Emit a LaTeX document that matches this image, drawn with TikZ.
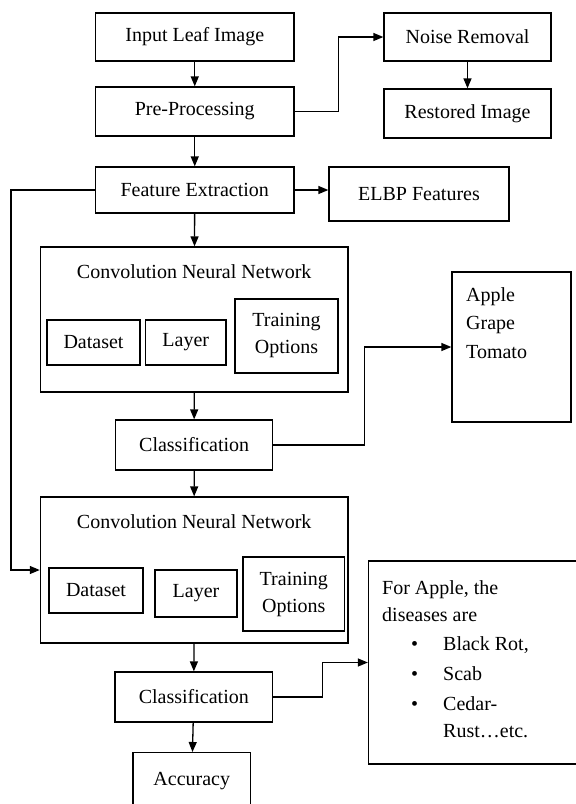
\documentclass[tikz,border=0pt]{standalone}
\usepackage{fontspec}
\setmainfont{Liberation Serif}
\usetikzlibrary{arrows.meta}
\begin{document}
\begin{tikzpicture}[x=1pt,y=-1pt,
  every node/.style={font=\fontsize{20}{27}\selectfont},
  box/.style={draw, line width=1.3pt, inner sep=0pt, align=center},
  txt/.style={inner sep=0pt, anchor=base west},
  conn/.style={line width=1.3pt, -{Triangle[length=10pt,width=8pt]}},
  plain/.style={line width=1.3pt}]
\useasboundingbox (0,0) rectangle (576,804);
\clip (0,0) rectangle (576,804);
\fill[white] (0,0) rectangle (576,804);

% top chain
\node[box, minimum width=198.5, minimum height=48] (in) at (194.75,37) {Input Leaf Image};
\node[box, minimum width=198.5, minimum height=49] (pre) at (194.75,111.5) {Pre-Processing};
\node[box, minimum width=167, minimum height=48] (noise) at (467.5,37) {Noise Removal};
\node[box, minimum width=167, minimum height=49] (rest) at (467.5,113.5) {Restored Image};
\node[box, minimum width=198.5, minimum height=46] (feat) at (194.75,190) {Feature Extraction};
\node[box, minimum width=180, minimum height=54] (elbp) at (419,194) {ELBP Features};

% first CNN block
\node[box, minimum width=307.6, minimum height=145] (cnn1) at (194.2,319.5) {};
\node[inner sep=0pt] (cnn1t) at (194.2,272) {Convolution Neural Network};
\node[box, minimum width=93, minimum height=45] (ds1) at (93.5,342.5) {Dataset};
\node[box, minimum width=80.5, minimum height=45] (ly1) at (185.75,342.5) {Layer};
\node[box, minimum width=103, minimum height=74] (tr1) at (286.5,336) {Training\\Options};
\node[box, minimum width=157, minimum height=50] (cls1) at (194.15,445) {Classification};

% crop box
\node[box, minimum width=119, minimum height=150] (apple) at (511.5,347) {};
\node[txt] (a1) at (466,301) {Apple};
\node[txt] (a2) at (466,329.5) {Grape};
\node[txt] (a3) at (466,358) {Tomato};

% second CNN block
\node[box, minimum width=307.6, minimum height=146] (cnn2) at (194.2,570) {};
\node[inner sep=0pt] (cnn2t) at (194.2,522) {Convolution Neural Network};
\node[box, minimum width=94, minimum height=45] (ds2) at (96,590.5) {Dataset};
\node[box, minimum width=82, minimum height=47] (ly2) at (196,593.5) {Layer};
\node[box, minimum width=101.6, minimum height=74] (tr2) at (293.8,594) {Training\\Options};
\node[box, minimum width=157.6, minimum height=50] (cls2) at (193.8,697) {Classification};
\node[box, anchor=north, minimum width=117.5, minimum height=58] (acc) at (191.75,752) {\raisebox{6pt}{Accuracy}};

% disease box
\node[box, minimum width=221, minimum height=203] (dis) at (479,662.5) {};
\node[txt] (d1) at (382,594) {For Apple, the};
\node[txt] (d2) at (382,621) {diseases are};
\node[txt] (b1) at (411,650) {\textbullet};
\node[txt] (d3) at (443,650) {Black Rot,};
\node[txt] (b2) at (411,680) {\textbullet};
\node[txt] (d4) at (443,680) {Scab};
\node[txt] (b3) at (411,710) {\textbullet};
\node[txt] (d5) at (443,710) {Cedar-};
\node[txt] (d6) at (443,737) {Rust\dots etc.};

% connectors
\coordinate (lx) at (11,0);
\draw[conn] (in) -- (pre);
\draw[conn] (pre.east) -- ++(44,0) |- (noise.west);
\draw[conn] (noise) -- (rest);
\draw[conn] (pre) -- (feat);
\draw[conn] (feat.east) -- (feat.east -| elbp.west);
\draw[conn] (feat) -- (cnn1);
\draw[conn] (feat.west) -- (feat.west -| lx) |- (cnn2.west);
\draw[conn] (cnn1) -- (cls1);
\draw[conn] (cls1.east) -- ++(91,0) |- (apple.west);
\draw[conn] (cls1) -- (cnn2);
\draw[conn] (cnn2) -- (cls2);
\draw[conn] (cls2.east) -- ++(49,0) |- (dis.west);
\draw[conn] (cls2) -- (acc);
\end{tikzpicture}
\end{document}
